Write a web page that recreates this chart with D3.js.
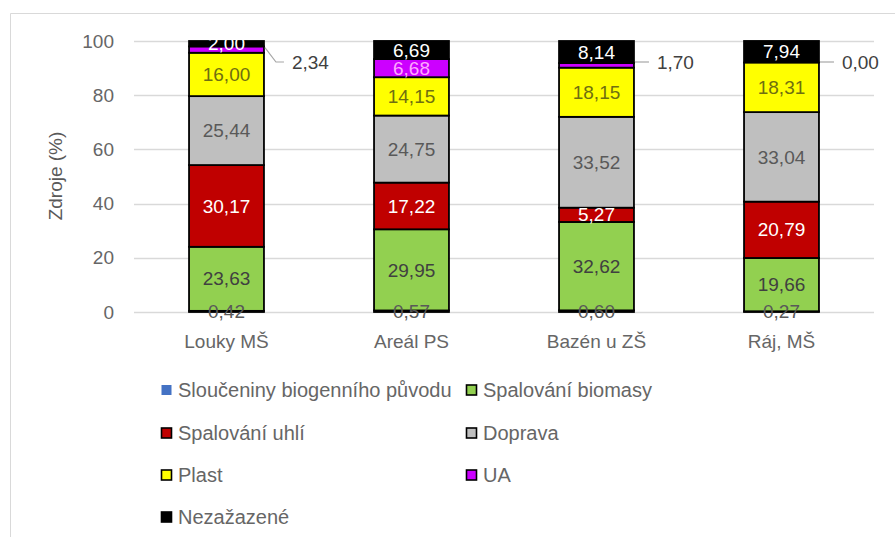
<!DOCTYPE html>
<html>
<head>
<meta charset="utf-8">
<script src="https://cdn.jsdelivr.net/npm/d3@7"></script>
<style>
  body { margin: 0; background: #fff; }
  text { font-family: "Liberation Sans", Arial, sans-serif; }
</style>
</head>
<body>
<div id="chartContainer"></div>
<script>
var width = 895,
  height = 537;

// categories (x axis)
var sites = ["Louky MŠ", "Areál PS", "Bazén u ZŠ", "Ráj, MŠ"];

// series, bottom to top of the stack
var sources = ["Sloučeniny biogenního původu", "Spalování biomasy", "Spalování uhlí",
  "Doprava", "Plast", "UA", "Nezažazené"];
var colors = ["#4472c4", "#92d050", "#c00000", "#bfbfbf", "#ffff00", "#cc00ff", "#000000"];
var labelColors = ["#595959", "#404040", "#ffffff", "#595959", "#6f6f10", "#ffa8ff", "#ffffff"];

// values per site (%), same order as sources
var biogenni = [0.42, 0.57, 0.60, 0.27];
var biomasa = [23.63, 29.95, 32.62, 19.66];
var uhli = [30.17, 17.22, 5.27, 20.79];
var doprava = [25.44, 24.75, 33.52, 33.04];
var plast = [16.00, 14.15, 18.15, 18.31];
var ua = [2.34, 6.68, 1.70, 0.00];
var nezarazene = [2.00, 6.69, 8.14, 7.94];

var yTicks = [0, 20, 40, 60, 80, 100];

var seriesValues = [biogenni, biomasa, uhli, doprava, plast, ua, nezarazene];

var rows = sites.map(function (s, i) {
  var r = { site: s };
  sources.forEach(function (src, k) { r[src] = seriesValues[k][i]; });
  return r;
});

var stack = d3.stack().keys(sources);
var layers = stack(rows);

var svg = d3.select("#chartContainer")
  .append("svg")
  .attr("width", width)
  .attr("height", height);

// outer frame (only top and left edges visible)
svg.append("path")
  .attr("d", "M10.5," + height + "V13.5H" + width)
  .attr("fill", "none")
  .attr("stroke", "#d9d9d9")
  .attr("stroke-width", 1);

var x = d3.scaleBand().domain(sites).range([134, 874]).paddingInner(0.595).paddingOuter(0.2975);
var y = d3.scaleLinear().domain([0, 100]).range([312, 41]);

// gridlines
svg.append("g")
  .selectAll("line")
  .data(yTicks)
  .enter()
  .append("line")
  .attr("x1", 134)
  .attr("x2", 874)
  .attr("y1", function (d) { return Math.round(y(d)) + 0.5; })
  .attr("y2", function (d) { return Math.round(y(d)) + 0.5; })
  .attr("stroke", "#d9d9d9")
  .attr("stroke-width", 1.3);

// y axis (labels only)
var yAxis = svg.append("g")
  .attr("transform", "translate(114,0)")
  .call(d3.axisLeft(y).tickValues(yTicks).tickSize(0).tickPadding(0));
yAxis.select(".domain").remove();
yAxis.selectAll("text")
  .style("font-size", "19px")
  .attr("fill", "#666666");

svg.append("text")
  .attr("transform", "translate(62,176) rotate(-90)")
  .attr("text-anchor", "middle")
  .style("font-size", "19px")
  .attr("fill", "#595959")
  .text("Zdroje (%)");

// x axis (labels only)
var xAxis = svg.append("g")
  .attr("transform", "translate(0,334)")
  .call(d3.axisBottom(x).tickSize(0).tickPadding(0));
xAxis.select(".domain").remove();
xAxis.selectAll("text")
  .style("font-size", "19px")
  .attr("fill", "#666666");

// stacked bars
var groups = svg.append("g")
  .selectAll("g")
  .data(layers)
  .enter()
  .append("g")
  .attr("fill", function (d, i) { return colors[i]; });

groups.selectAll("rect")
  .data(function (d) { return d; })
  .enter()
  .append("rect")
  .attr("x", function (d) { return x(d.data.site); })
  .attr("width", x.bandwidth())
  .attr("y", function (d) { return y(d[1]); })
  .attr("height", function (d) { return y(d[0]) - y(d[1]); })
  .attr("stroke", "#000")
  .attr("stroke-width", 1.8);

// data labels
var calloutY = 62;
layers.forEach(function (layer, k) {
  layer.forEach(function (d) {
    var v = d[1] - d[0];
    var cx = x(d.data.site) + x.bandwidth() / 2;
    var cy = (y(d[0]) + y(d[1])) / 2;
    var txt = v.toFixed(2).replace(".", ",");
    if (sources[k] === "UA" && v < 3) {
      var bx = x(d.data.site) + x.bandwidth() + 1;
      var pts = Math.abs(cy - calloutY) > 6
        ? [[bx, cy - 2], [bx + 11, calloutY], [bx + 19, calloutY]]
        : [[bx, calloutY], [bx + 14, calloutY]];
      svg.append("path")
        .attr("d", d3.line()(pts))
        .attr("fill", "none")
        .attr("stroke", "#a6a6a6")
        .attr("stroke-width", 1.2);
      svg.append("text")
        .attr("x", pts[pts.length - 1][0] + 8)
        .attr("y", calloutY)
        .attr("dy", "0.35em")
        .style("font-size", "19px")
        .attr("fill", "#404040")
        .text(txt);
      return;
    }
    svg.append("text")
      .attr("x", cx)
      .attr("y", cy)
      .attr("dy", "0.35em")
      .attr("text-anchor", "middle")
      .style("font-size", "19px")
      .attr("fill", labelColors[k])
      .text(txt);
  });
});

// legend
var legendPos = [
  [161, 390], [466, 390],
  [161, 433], [466, 433],
  [161, 475], [466, 475],
  [161, 517]
];
var legend = svg.append("g")
  .selectAll("g")
  .data(sources)
  .enter()
  .append("g")
  .attr("transform", function (d, i) { return "translate(" + legendPos[i][0] + "," + legendPos[i][1] + ")"; });

legend.append("rect")
  .attr("x", 0.5)
  .attr("y", -5)
  .attr("width", 10)
  .attr("height", 10)
  .attr("fill", function (d, i) { return colors[i]; })
  .attr("stroke", function (d, i) { return i === 0 ? "none" : "#000"; })
  .attr("stroke-width", 1.6);

legend.append("text")
  .attr("x", 17)
  .attr("y", 0)
  .attr("dy", "0.35em")
  .style("font-size", "20px")
  .attr("fill", "#666666")
  .text(function (d) { return d; });
</script>
</body>
</html>
